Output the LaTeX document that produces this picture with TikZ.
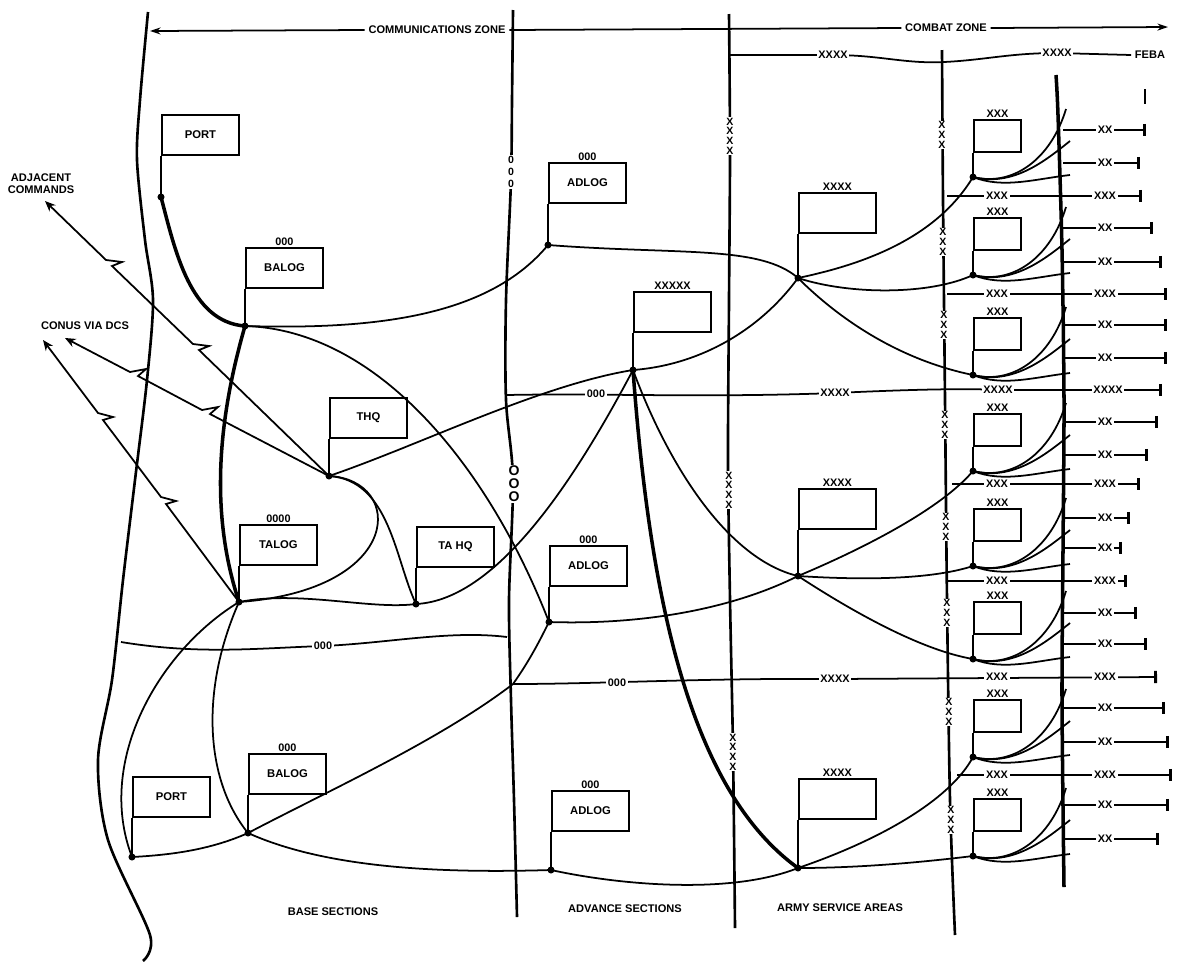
\documentclass[tikz,border=0pt]{standalone}
\usepackage{fontspec}
\setsansfont{Liberation Sans}
\usepackage{tikz}
\usetikzlibrary{arrows.meta}

\tikzset{
  flagbox/.style={draw, line width=1.1pt, minimum width=1.54cm, minimum height=0.8cm,
    anchor=north west, inner sep=0pt, font=\fontsize{6.4}{7}\sffamily\bfseries},
  unitbox/.style={draw, line width=1.1pt, minimum width=0.94cm, minimum height=0.64cm,
    anchor=north west, inner sep=0pt},
  echelon/.style={font=\fontsize{6.2}{7}\sffamily\bfseries, inner sep=0.5pt},
  tag/.style={fill=white, inner sep=1pt, font=\fontsize{6.2}{7}\sffamily\bfseries},
  vtag/.style={fill=white, inner sep=0.5pt, align=center, font=\fontsize{6}{5.5}\sffamily\bfseries},
  zonelabel/.style={font=\fontsize{6.3}{7}\sffamily\bfseries, inner sep=2pt},
  link/.style={line width=1pt},
  heavy/.style={line width=2pt},
  pole/.style={line width=1.3pt},
  border/.style={line width=1.5pt},
  bolt/.style={line width=1pt, -{Stealth[length=6pt,width=5pt]}},
  branch/.style={line width=1pt, -{Bar[width=7pt,line width=1.6pt]}},
}

\begin{document}
\begin{tikzpicture}[x=0.02cm,y=-0.02cm]
\useasboundingbox (0,0) rectangle (1186,961);

% flags of the headquarters
\node[flagbox] (flag-p1) at (161,114) {PORT};
\coordinate (p1) at (161,197);
\node[flagbox, label={[echelon]above:000}] (flag-b1) at (245,247) {BALOG};
\coordinate (b1) at (245,326);
\node[flagbox, label={[echelon]above:000}] (flag-a1) at (548,162) {ADLOG};
\coordinate (a1) at (548,245);
\node[flagbox, label={[echelon]above:XXXX}] (flag-xa) at (798,192) {};
\coordinate (xa) at (798,278);
\node[flagbox, label={[echelon]above:XXXXX}] (flag-x5) at (633,291) {};
\coordinate (x5) at (633,370);
\node[flagbox] (flag-t) at (329,397) {THQ};
\coordinate (t) at (329,476);
\node[flagbox, label={[echelon]above:0000}] (flag-tl) at (239,524) {TALOG};
\coordinate (tl) at (239,602);
\node[flagbox] (flag-th) at (416,526) {TA HQ};
\coordinate (th) at (416,604);
\node[flagbox, label={[echelon]above:000}] (flag-a2) at (549,545) {ADLOG};
\coordinate (a2) at (549,622);
\node[flagbox, label={[echelon]above:XXXX}] (flag-xb) at (798,488) {};
\coordinate (xb) at (798,576);
\node[flagbox, label={[echelon]above:000}] (flag-a3) at (551,790) {ADLOG};
\coordinate (a3) at (551,870);
\node[flagbox, label={[echelon]above:XXXX}] (flag-xc) at (798,778) {};
\coordinate (xc) at (798,868);
\node[flagbox, label={[echelon]above:000}] (flag-b2) at (248,753) {BALOG};
\coordinate (b2) at (248,833);
\node[flagbox] (flag-p2) at (132,776) {PORT};
\coordinate (p2) at (132,857);
\coordinate (j1) at (513,684);

\foreach \n in {p1,b1,a1,xa,x5,t,tl,th,a2,xb,a3,xc,b2,p2}{
  \draw[pole] (flag-\n.south west) -- (\n);
  \fill (\n) circle[radius=2pt];
}

% zone boundaries
\draw[border] plot[smooth] coordinates {(148,12) (140,100) (137,160) (145,240) (153,300)
  (147,380) (135,480) (123,580) (112,680) (98,760) (108,840) (150,935) (143,961)};
\draw[border] plot[smooth] coordinates {(513,10) (512,100) (511,180) (506,300) (506,400)
  (513,480) (509,600) (511,700) (514,800) (517,917)};
\draw[border] plot[smooth] coordinates {(729,14) (730,150) (729,300) (728,460) (730,600)
  (733,750) (735,928)};
\draw[border] plot[smooth] coordinates {(942,50) (943,200) (945,400) (947,600) (950,800) (955,935)};
\draw[line width=2pt] plot[smooth] coordinates {(1056,75) (1058,115) (1062,250) (1064,400)
  (1063,550) (1062,700) (1064,887)};
\draw[line width=1.5pt] (1145,89) -- (1145,104);

% header
\node[zonelabel] (comz) at (437,30) {COMMUNICATIONS ZONE};
\node[zonelabel] (cbz) at (946,28) {COMBAT ZONE};
\coordinate (lhead) at (150,31);
\coordinate (rhead) at (1168,27);
\draw[link,-{Stealth[length=6pt,width=4pt]}] (comz.west) -- (lhead);
\draw[link] (comz.east) -- (cbz.west);
\draw[link,-{Stealth[length=6pt,width=4pt]}] (cbz.east) -- (rhead);

\node[zonelabel] (feba) at (1150,55) {FEBA};
\coordinate (h0) at (730,55);
\draw[link] (h0) -- (833,55) .. controls (880,55) and (905,64) .. (944,62)
  .. controls (985,60) and (1010,53) .. (1057,53) -- (feba.west);

% division flags along the FEBA
\foreach \i/\yt in {1/119,2/217,3/317,4/413,5/508,6/601,7/699,8/798}{
  \node[unitbox, label={[echelon]above:XXX}] (flag-r\i) at (973,\yt) {};
  \coordinate (r\i) at (973,\yt+58);
  \draw[pole] (flag-r\i.south west) -- (r\i);
  \fill (r\i) circle[radius=2pt];
  \coordinate (ru\i) at (1066,\yt-10);
  \coordinate (rm\i) at (1070,\yt+22);
  \coordinate (rl\i) at (1070,\yt+56);
  \draw[link] (r\i) .. controls +(40,10) and +(-15,50) .. (ru\i);
  \draw[link] (r\i) .. controls +(40,10) and +(-25,20) .. (rm\i);
  \draw[link] (r\i) .. controls +(30,12) and +(-35,4) .. (rl\i);
}

% lines of support
\draw[heavy] (p1) .. controls (175,250) and (190,322) .. (b1);
\draw[link] (b1) .. controls (380,330) and (490,315) .. (a1);
\draw[heavy] (b1) .. controls (215,430) and (212,520) .. (tl);
\draw[link] (b1) .. controls (380,330) and (490,470) .. (a2);
\draw[link] (a1) .. controls (680,255) and (760,245) .. (xa);
\draw[link] (xa) .. controls (860,265) and (935,240) .. (r1);
\draw[link] (xa) .. controls (850,295) and (930,295) .. (r2);
\draw[link] (xa) .. controls (840,320) and (900,360) .. (r3);
\draw[link] (x5) .. controls (700,365) and (760,330) .. (xa);
\draw[link] (t) .. controls (420,445) and (540,385) .. (x5);
\draw[link] (x5) .. controls (670,470) and (730,560) .. (xb);
\draw[heavy] (x5) .. controls (650,600) and (690,790) .. (xc);
\draw[link] (th) .. controls (500,600) and (580,470) .. (x5);
\draw[link] (t) .. controls (405,480) and (405,590) .. (tl);
\draw[link] (t) .. controls (390,480) and (395,560) .. (th);
\draw[link] (tl) .. controls (300,590) and (370,610) .. (th);
\draw[link] (tl) .. controls (160,650) and (95,760) .. (p2);
\draw[link] (tl) .. controls (200,690) and (205,780) .. (b2);
\draw[link] (b2) .. controls (330,790) and (440,740) .. (j1);
\draw[link] (j1) .. controls (530,660) and (540,640) .. (a2);
\draw[link] (b2) .. controls (330,870) and (450,873) .. (a3);
\draw[link] (p2) .. controls (170,855) and (210,850) .. (b2);
\draw[link] (a3) .. controls (620,885) and (730,895) .. (xc);
\draw[link] (xc) .. controls (870,868) and (940,860) .. (r8);
\draw[link] (xc) .. controls (880,840) and (950,800) .. (r7);
\draw[link] (a2) .. controls (640,625) and (730,610) .. (xb);
\draw[link] (xb) .. controls (860,550) and (940,510) .. (r4);
\draw[link] (xb) .. controls (860,580) and (930,580) .. (r5);
\draw[link] (xb) .. controls (850,610) and (920,650) .. (r6);

% communications to the rear
\coordinate (adj) at (45,201);
\coordinate (conus1) at (65,338);
\coordinate (conus2) at (43,340);
\draw[bolt] (t) -- (199,350) -- (209,346) -- (193,344) -- (112,266) -- (122,262) -- (106,260) -- (adj);
\draw[bolt] (t) -- (210,414) -- (218,407) -- (202,410) -- (138,376) -- (146,369) -- (130,372) -- (conus1);
\draw[bolt] (tl) -- (166,504) -- (176,501) -- (161,497) -- (103,420) -- (113,417) -- (98,413) -- (conus2);
\node[zonelabel, align=center] (adjl) at (41,184) {ADJACENT\\COMMANDS};
\node[zonelabel] (conusl) at (85,326) {CONUS VIA DCS};

% boundary lines across the area
\coordinate (h1s) at (507,395);
\coordinate (h1e) at (1162,390);
\draw[branch] (h1s) .. controls (600,393) and (700,398) .. (835,393)
  .. controls (900,390) and (960,388) .. (1000,390) -- (h1e);
\coordinate (h2s) at (121,642);
\coordinate (h2e) at (507,637);
\draw[link] (h2s) .. controls (200,655) and (260,648) .. (323,646)
  .. controls (390,643) and (450,630) .. (h2e);
\coordinate (h3e) at (1157,677);
\draw[branch] (j1) .. controls (600,684) and (700,678) .. (835,679) -- (h3e);

\foreach \y/\xs/\xe in {196/947/1142,294/947/1167,484/952/1140,581/947/1127,775/957/1172}{
  \coordinate (cs\y) at (\xs,\y);
  \coordinate (ce\y) at (\xe,\y);
  \draw[branch] (cs\y) -- (ce\y);
  \node[tag] at (997,\y) {XXX};
  \node[tag] at (1105,\y) {XXX};
}
\foreach \y/\lab/\xe in {130/XX/1146,163/XX/1140,228/XX/1153,262/XX/1162,325/XX/1167,
    358/XX/1167,422/XX/1158,455/XX/1148,518/XX/1130,548/XX/1122,613/XX/1137,
    644/XX/1147,708/XX/1165,742/XX/1169,805/XX/1169,839/XX/1159}{
  \coordinate (bs\y) at (1063,\y);
  \coordinate (be\y) at (\xe,\y);
  \draw[branch] (bs\y) -- (be\y);
  \node[tag] at (1105,\y) {\lab};
}

% tags on the lines
\node[tag] at (833,55) {XXXX};
\node[tag] at (1057,53) {XXXX};
\node[tag] at (596,394) {000};
\node[tag] at (835,393) {XXXX};
\node[tag] at (998,390) {XXXX};
\node[tag] at (1108,390) {XXXX};
\node[tag] at (323,646) {000};
\node[tag] at (617,683) {000};
\node[tag] at (835,679) {XXXX};
\node[tag] at (997,677) {XXX};
\node[tag] at (1105,677) {XXX};

\node[vtag, font=\fontsize{6}{6.8}\sffamily\bfseries] at (511,172) {0\\0\\0};
\node[vtag, font=\fontsize{8}{7.4}\sffamily\bfseries] at (514,484) {O\\O\\O};
\foreach \x/\y in {730/136,729/490,733/752}
  \node[vtag] at (\x,\y) {X\\X\\X\\X};
\foreach \x/\y in {942/135,943/242,944/325,945/425,946/527,947/613,949/712,951/820}
  \node[vtag] at (\x,\y) {X\\X\\X};

% sections
\node[zonelabel] (base) at (333,912) {BASE SECTIONS};
\node[zonelabel] (adv) at (625,909) {ADVANCE SECTIONS};
\node[zonelabel] (asa) at (840,908) {ARMY SERVICE AREAS};
\end{tikzpicture}
\end{document}
